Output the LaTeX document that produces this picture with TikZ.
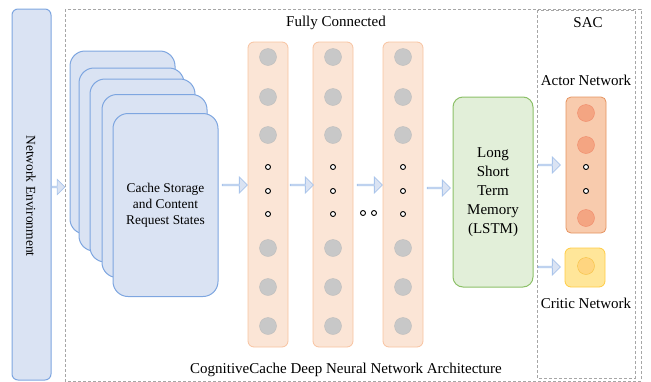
\documentclass[tikz,border=0pt]{standalone}
\usepackage{fontspec}
\setmainfont{Liberation Serif}
\usetikzlibrary{shapes.arrows}
\definecolor{bluefill}{HTML}{DAE3F3}
\definecolor{bluedraw}{HTML}{7EA6E0}
\definecolor{arrowdraw}{HTML}{A9C4EB}
\definecolor{layerfill}{HTML}{FBE5D6}
\definecolor{layerdraw}{HTML}{F8C3A0}
\definecolor{grayfill}{HTML}{C8C8C8}
\definecolor{graydraw}{HTML}{BDBDBD}
\definecolor{actorfill}{HTML}{F8CBAD}
\definecolor{actordraw}{HTML}{E6935F}
\definecolor{actorcfill}{HTML}{F4A582}
\definecolor{actorcdraw}{HTML}{F08A6A}
\definecolor{criticfill}{HTML}{FFE699}
\definecolor{criticdraw}{HTML}{FFCC44}
\definecolor{criticcfill}{HTML}{FFD580}
\definecolor{criticcdraw}{HTML}{F5C040}
\definecolor{lstmfill}{HTML}{E2EFD9}
\definecolor{lstmdraw}{HTML}{8CC068}
\definecolor{dashgray}{HTML}{A6A6A6}
\tikzset{
  card/.style={draw=bluedraw, fill=bluefill, line width=1pt, rounded corners=15pt, minimum width=105pt, minimum height=183pt, inner sep=0pt},
  envbox/.style={draw=bluedraw, fill=bluefill, line width=1pt, rounded corners=6pt, minimum width=39pt, minimum height=371pt, inner sep=0pt},
  layerbox/.style={draw=layerdraw, fill=layerfill, line width=0.8pt, rounded corners=6pt, minimum width=40pt, minimum height=305pt, inner sep=0pt},
  graydot/.style={circle, draw=graydraw, fill=grayfill, minimum size=17pt, inner sep=0pt},
  smalldot/.style={circle, draw=black, fill=white, line width=0.9pt, minimum size=5pt, inner sep=0pt},
  blockarrow/.style={shape=single arrow, draw=arrowdraw, fill=bluefill, line width=0.8pt, single arrow head extend=4pt, single arrow head indent=0pt, minimum width=16pt, inner sep=0pt},
  dashbox/.style={draw=dashgray, line width=0.8pt, dash pattern=on 3pt off 2pt},
  lbl/.style={font=\fontsize{15}{19}\selectfont, inner sep=0pt},
}
\begin{document}
\begin{tikzpicture}[x=1pt,y=-1pt]
\useasboundingbox (0,0) rectangle (651,381);
% dashed frames
\draw[dashbox] (65,9) rectangle (641,381);
\draw[dashbox] (537,10) rectangle (635,378);
% network environment
\node[envbox] (env) at (31.5,194.5) {};
\node[rotate=-90, font=\fontsize{13.5}{16}\selectfont] (envtxt) at (31,196) {Network Environment};
% stacked cards
\node[card] (c1) at (122.5,142.5) {};
\node[card] (c2) at (131.5,159.5) {};
\node[card] (c3) at (142.5,170.5) {};
\node[card] (c4) at (154.5,186) {};
\node[card, align=center, font=\fontsize{13.4}{16}\selectfont] (c5) at (165.5,205) {Cache Storage\\and Content\\Request States};
% layers
\foreach \n/\x in {l1/268,l2/333,l3/403}{
  \node[layerbox] (\n) at (\x,194.5) {};
  \foreach \y [count=\i] in {57,97,135,248,287,326}{
    \node[graydot] (\n g\i) at (\x,\y) {};
  }
  \foreach \y [count=\i] in {167,191,214}{
    \node[smalldot] (\n s\i) at (\x,\y) {};
  }
}
\node[smalldot] (dd1) at (363,213) {};
\node[smalldot] (dd2) at (374,213) {};
% LSTM
\node[draw=lstmdraw, fill=lstmfill, line width=1pt, rounded corners=10pt, minimum width=80pt, minimum height=190pt, inner sep=0pt, align=center, font=\fontsize{15}{19}\selectfont] (lstm) at (493,192) {Long\\Short\\Term\\Memory\\(LSTM)};
% actor
\node[draw=actordraw, fill=actorfill, line width=0.8pt, rounded corners=5pt, minimum width=40pt, minimum height=136pt, inner sep=0pt] (actor) at (586,165) {};
\foreach \y [count=\i] in {113,145,218}{
  \node[circle, draw=actorcdraw, fill=actorcfill, minimum size=17pt, inner sep=0pt] (ac\i) at (586,\y) {};
}
\node[smalldot] (as1) at (586,167) {};
\node[smalldot] (as2) at (586,191) {};
% critic
\node[draw=criticdraw, fill=criticfill, line width=0.8pt, rounded corners=6pt, minimum width=40pt, minimum height=39pt, inner sep=0pt] (critic) at (585,267.5) {};
\node[circle, draw=criticcdraw, fill=criticcfill, minimum size=17pt, inner sep=0pt] (cc) at (586,266) {};
% block arrows
\node[blockarrow, minimum height=13pt, minimum width=15pt] (a0) at (58,187) {};
\node[blockarrow, minimum height=25pt] (a1) at (234.5,185) {};
\node[blockarrow, minimum height=23pt] (a2) at (301.5,185) {};
\node[blockarrow, minimum height=25pt] (a3) at (369.5,185) {};
\node[blockarrow, minimum height=23pt] (a4) at (438.5,188) {};
\node[blockarrow, minimum height=22pt] (a5) at (549,165) {};
\node[blockarrow, minimum height=22pt] (a6) at (549,267) {};
% labels
\node[lbl] (fc) at (336,23) {Fully Connected};
\node[lbl] (sac) at (588,23) {SAC};
\node[lbl] (an) at (586,80) {Actor Network};
\node[lbl] (cn) at (586,303) {Critic Network};
\node[lbl] (cap) at (346,370) {CognitiveCache Deep Neural Network Architecture};
\end{tikzpicture}
\end{document}
